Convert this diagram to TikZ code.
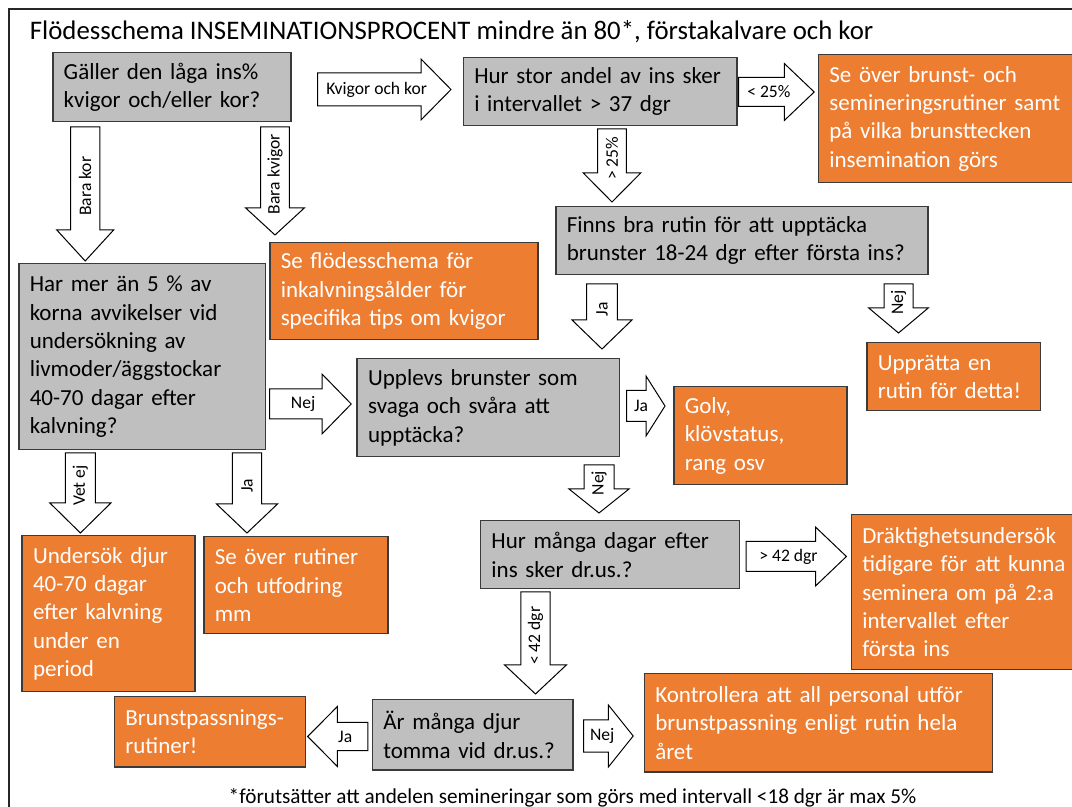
\documentclass[tikz,border=0pt]{standalone}
\usepackage{fontspec}
\setmainfont{Carlito}
\definecolor{ora}{HTML}{ED7D31}
\definecolor{gry}{HTML}{BFBFBF}
\definecolor{edge}{HTML}{3A3A3A}
\tikzset{
  gbox/.style={draw=edge, line width=0.75pt, fill=gry, text=black, align=left,
    inner xsep=5.5pt, inner ysep=0pt, font=\fontsize{11.5}{14.2}\selectfont},
  obox/.style={gbox, fill=ora, text=white},
  barrow/.style={draw=black, fill=white, line width=0.5pt, line join=miter},
  alabel/.style={font=\fontsize{8.8}{10}\selectfont, inner sep=0pt, text=black},
}
\newcommand\ml[1]{\mbox{#1}}
% box: style, name, x1, y1, x2, y2, text   (pixel coordinates, y downward)
\newcommand\bx[7]{%
  \pgfmathsetmacro\bxW{(#5-(#3))*0.5}%
  \pgfmathsetmacro\bxH{(#6-(#4))*0.5}%
  \pgfmathsetmacro\bxT{(#5-(#3)-22)*0.5}%
  \node[#1, anchor=north west, minimum width=\bxW pt, minimum height=\bxH pt,
        text width=\bxT pt] (#2) at (#3,#4) {#7};}
% down block arrow: name, cx, ytop, yhead, ytip, shaft width, head width, label
\newcommand\dnarrow[8]{%
  \draw[barrow] ({#2-#6/2},#3) -- ({#2+#6/2},#3) -- ({#2+#6/2},#4) -- ({#2+#7/2},#4)
     -- (#2,#5) -- ({#2-#7/2},#4) -- ({#2-#6/2},#4) -- cycle;
  \node[alabel, rotate=90] (#1) at (#2,{(2*#3+#4+#5)/4}) {#8};}
% horizontal block arrow: name, x tail, cy, x head start, x tip, shaft width, head width, label
\newcommand\hzarrow[8]{%
  \draw[barrow] (#2,{#3-#6/2}) -- (#4,{#3-#6/2}) -- (#4,{#3-#7/2}) -- (#5,#3)
     -- (#4,{#3+#7/2}) -- (#4,{#3+#6/2}) -- (#2,{#3+#6/2}) -- cycle;
  \node[alabel] (#1) at ({(2*#2+#4+#5)/4},#3) {#8};}

\begin{document}
\begin{tikzpicture}[x=0.5pt, y=-0.5pt]
\useasboundingbox (0,0) rectangle (1072,807);
\clip (0,0) rectangle (1072,807);
\fill[white] (0,0) rectangle (1072,807);

% frame
\draw[line width=1pt, black!85] (9,810) -- (9,9) -- (1080,9);

% title and footnote
\node[anchor=base west, font=\fontsize{13.4}{16}\selectfont, inner sep=0pt] (title) at (29.5,40)
  {Flödesschema INSEMINATIONSPROCENT mindre än 80*, förstakalvare och kor};
\node[anchor=base, font=\fontsize{10.6}{12}\selectfont, inner sep=0pt] (note) at (572.5,803)
  {*förutsätter att andelen semineringar som görs med intervall <18 dgr är max 5\%};

% boxes
\bx{gbox}{q1}{52}{52}{290}{121}{\ml{Gäller den låga ins\%}\\\ml{kvigor och/eller kor?}}
\bx{gbox}{q2}{462.5}{57}{736}{125}{\ml{Hur stor andel av ins sker}\\\ml{i intervallet > 37 dgr}}
\bx{obox}{a1}{817.6}{54}{1090}{182}{\ml{Se över brunst- och}\\\ml{semineringsrutiner samt}\\\ml{på vilka brunsttecken}\\\ml{insemination görs}}
\bx{gbox}{q3}{555}{206}{927}{274}{\ml{Finns bra rutin för att upptäcka}\\\ml{brunster 18-24 dgr efter första ins?}}
\bx{obox}{a2}{269}{242}{537}{339}{\ml{Se flödesschema för}\\\ml{inkalvningsålder för}\\\ml{specifika tips om kvigor}}
\bx{gbox}{q4}{18}{263}{264.5}{449}{\ml{Har mer än 5 \% av}\\\ml{korna avvikelser vid}\\\ml{undersökning av}\\\ml{livmoder/äggstockar}\\\ml{40-70 dagar efter}\\\ml{kalvning?}}
\bx{gbox}{q5}{356.4}{358}{618.5}{456}{\ml{Upplevs brunster som}\\\ml{svaga och svåra att}\\\ml{upptäcka?}}
\bx{obox}{a3}{866}{342}{1039.5}{410}{\ml{Upprätta en}\\\ml{rutin för detta!}}
\bx{obox}{a4}{673}{386}{846}{484}{\ml{Golv,}\\\ml{klövstatus,}\\\ml{rang osv}}
\bx{gbox}{q6}{479.7}{520}{738.5}{588}{\ml{Hur många dagar efter}\\\ml{ins sker dr.us.?}}
\bx{obox}{a5}{850.5}{514}{1090}{669}{\ml{Dräktighetsundersök}\\\ml{tidigare för att kunna}\\\ml{seminera om på 2:a}\\\ml{intervallet efter}\\\ml{första ins}}
\bx{obox}{a6}{21.3}{535}{194}{691}{\ml{Undersök djur}\\\ml{40-70 dagar}\\\ml{efter kalvning}\\\ml{under en}\\\ml{period}}
\bx{obox}{a7}{203}{536}{387.4}{633}{\ml{Se över rutiner}\\\ml{och utfodring}\\\ml{mm}}
\bx{obox}{a8}{113.6}{696}{304.6}{766}{\ml{Brunstpassnings-}\\\ml{rutiner!}}
\bx{gbox}{q7}{371.5}{699}{572.4}{769}{\ml{Är många djur}\\\ml{tomma vid dr.us.?}}
\bx{obox}{a9}{643.5}{673}{991.7}{771}{\ml{Kontrollera att all personal utför}\\\ml{brunstpassning enligt rutin hela}\\\ml{året}}

% block arrows
\hzarrow{l1}{317.5}{89.5}{421}{451}{33}{61}{Kvigor och kor}
\hzarrow{l2}{738.5}{92}{784.3}{814.2}{29}{57}{< 25\%}
\hzarrow{l3}{269.6}{404}{322}{351.2}{30}{60}{Nej}
\hzarrow{l4}{626.7}{406}{646}{665}{31}{60}{Ja}
\hzarrow{l5}{746}{556.5}{815.5}{846.4}{30}{59}{> 42 dgr}
\hzarrow{l6}{583.6}{736}{608.4}{633.2}{32}{62}{Nej}
\hzarrow{l7}{367.8}{736.5}{337.4}{307.7}{28}{60}{Ja}

\dnarrow{d1}{85.2}{127}{230}{261}{29.3}{56.8}{Bara kor}
\dnarrow{d2}{275}{127}{208}{235}{28.6}{58.6}{Bara kvigor}
\dnarrow{d3}{612}{129}{173}{202}{28.8}{57.4}{> 25\%}
\dnarrow{d4}{602}{284}{320}{349}{30.6}{60}{Ja}
\dnarrow{d5}{898.5}{284}{308}{333}{29}{59.5}{Nej}
\dnarrow{d6}{80.4}{453}{503}{533}{30}{61}{Vet ej}
\dnarrow{d7}{247}{453}{504}{533}{29.4}{61}{Ja}
\dnarrow{d8}{599}{465}{489}{513}{30}{60}{Nej}
\dnarrow{d9}{535.5}{592}{665}{694}{29.3}{61.7}{< 42 dgr}
\end{tikzpicture}
\end{document}
